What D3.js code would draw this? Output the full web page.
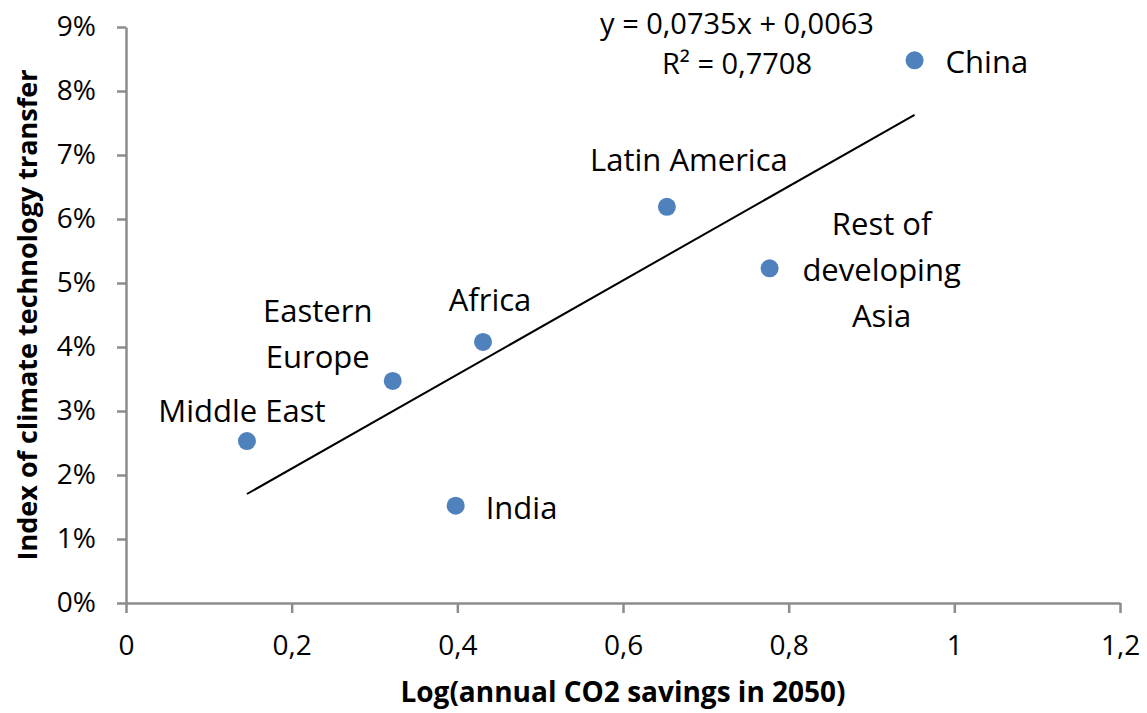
<!DOCTYPE html>
<html>
<head>
<meta charset="utf-8">
<script src="https://cdn.jsdelivr.net/npm/d3@7"></script>
<style>
  body { margin: 0; background: #fff; }
  text { font-family: "Open Sans", sans-serif; fill: #000; }
</style>
</head>
<body>
<div class="canvas"></div>
<script>
// data
const regions = ['Middle East', 'Eastern Europe', 'India', 'Africa', 'Latin America', 'Rest of developing Asia', 'China'];
const logSavings = [0.146, 0.322, 0.398, 0.431, 0.653, 0.777, 0.952];
const transferIndex = [0.0253, 0.0347, 0.0152, 0.0408, 0.0619, 0.0523, 0.0848];
const xTicks = [0, 0.2, 0.4, 0.6, 0.8, 1, 1.2];
const yTicks = [0, 0.01, 0.02, 0.03, 0.04, 0.05, 0.06, 0.07, 0.08, 0.09];
const slope = 0.0735, intercept = 0.0063, r2 = 0.7708;

// label placement (lines, dx, dy from the point, anchor)
const labelLines = [['Middle East'], ['Eastern', 'Europe'], ['India'], ['Africa'], ['Latin America'], ['Rest of', 'developing', 'Asia'], ['China']];
const labelPos = [
  {dx: -5, dy: -30, anchor: 'middle'},
  {dx: -75, dy: -70, anchor: 'middle'},
  {dx: 30, dy: 2, anchor: 'start'},
  {dx: 7, dy: -42, anchor: 'middle'},
  {dx: 22, dy: -47, anchor: 'middle'},
  {dx: 112, dy: -44, anchor: 'middle'},
  {dx: 31, dy: 2, anchor: 'start'}
];

const width = 1147, height = 713;
const margin = {top: 27, bottom: 110, right: 27, left: 126};
const graphWidth = width - margin.left - margin.right;
const graphHeight = height - margin.top - margin.bottom;

const svg = d3.select('.canvas')
  .append('svg')
    .attr('width', width)
    .attr('height', height);

const graph = svg.append('g')
  .attr('transform', `translate(${margin.left},${margin.top})`);

const x = d3.scaleLinear().domain([0, 1.2]).range([0, graphWidth]);
const y = d3.scaleLinear().domain([0, 0.09]).range([graphHeight, 0]);

const comma = d => String(d).replace('.', ',');

const xAxis = graph.append('g')
  .attr('transform', `translate(0,${graphHeight})`)
  .call(d3.axisBottom(x).tickValues(xTicks).tickSize(10).tickSizeOuter(0).tickPadding(22).tickFormat(comma));

const yAxis = graph.append('g')
  .call(d3.axisLeft(y).tickValues(yTicks).tickSize(9).tickSizeOuter(0).tickPadding(21).tickFormat(d => Math.round(d * 100) + '%'));

[xAxis, yAxis].forEach(a => {
  a.selectAll('path, line').attr('stroke', '#8c8c8c').attr('stroke-width', 2.5);
  a.selectAll('text').style('font-size', '28px').style('font-family', '"Open Sans", sans-serif').attr('fill', '#000');
});

// trend line
const xExt = d3.extent(logSavings);
graph.append('line')
  .attr('x1', x(xExt[0])).attr('y1', y(slope * xExt[0] + intercept))
  .attr('x2', x(xExt[1])).attr('y2', y(slope * xExt[1] + intercept))
  .attr('stroke', '#000').attr('stroke-width', 2);

// points
graph.selectAll('circle')
  .data(regions)
  .enter()
  .append('circle')
    .attr('cx', (d, i) => x(logSavings[i]))
    .attr('cy', (d, i) => y(transferIndex[i]))
    .attr('r', 9)
    .attr('fill', '#4f81bd');

// point labels
const labels = graph.selectAll('.lbl')
  .data(regions)
  .enter()
  .append('text')
    .attr('class', 'lbl')
    .attr('text-anchor', (d, i) => labelPos[i].anchor)
    .style('font-size', '31px');

labels.each(function(d, i) {
  const t = d3.select(this);
  const px = x(logSavings[i]) + labelPos[i].dx;
  const py = y(transferIndex[i]) + labelPos[i].dy;
  labelLines[i].forEach((line, j) => {
    t.append('tspan')
      .attr('x', px)
      .attr('y', py + j * 46)
      .attr('dy', '0.35em')
      .text(line);
  });
});

// equation
const eq = graph.append('text')
  .attr('text-anchor', 'middle')
  .style('font-size', '29px');
eq.append('tspan').attr('x', 611).attr('y', -3).attr('dy', '0.35em')
  .text(`y = ${comma(slope)}x + ${comma(intercept)}`);
eq.append('tspan').attr('x', 611).attr('y', 37).attr('dy', '0.35em')
  .text(`R² = ${comma(r2)}`);

// axis titles
svg.append('text')
  .attr('x', margin.left + x(0.6))
  .attr('y', 692)
  .attr('dy', '0.35em')
  .attr('text-anchor', 'middle')
  .style('font-size', '28px')
  .style('font-weight', 'bold')
  .text('Log(annual CO2 savings in 2050)');

svg.append('text')
  .attr('transform', `translate(28,${margin.top + y(0.045)}) rotate(-90)`)
  .attr('dy', '0.35em')
  .attr('text-anchor', 'middle')
  .style('font-size', '27px')
  .style('font-weight', 'bold')
  .text('Index of climate technology transfer');
</script>
</body>
</html>
